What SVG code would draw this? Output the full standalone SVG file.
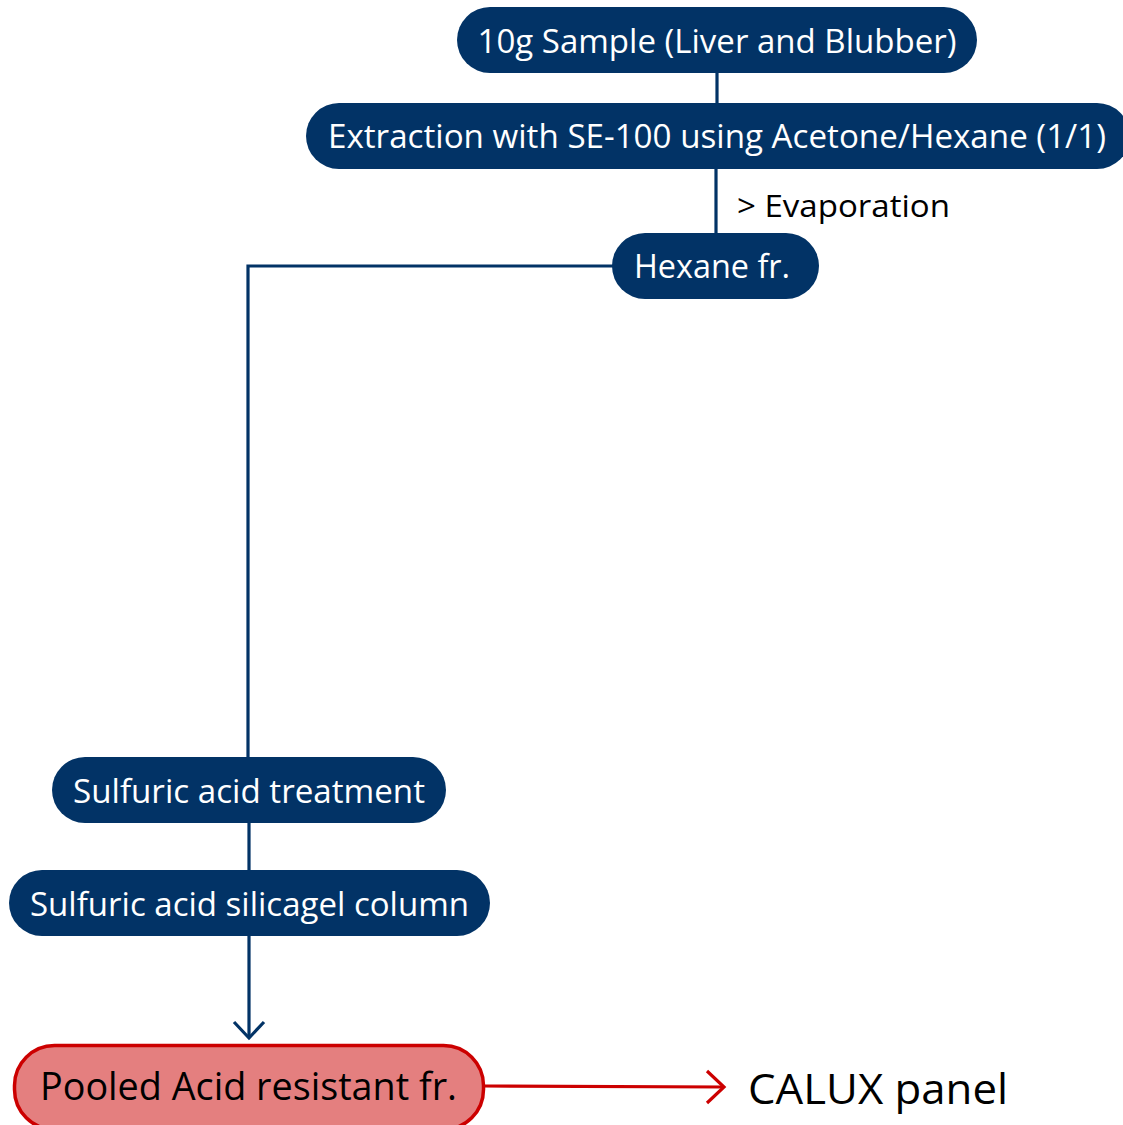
<svg xmlns="http://www.w3.org/2000/svg" width="1123" height="1125" viewBox="0 0 1123 1125">
<style>
.n{fill:#023366}
.t{fill:#fff;font-family:"Open Sans","Noto Sans",sans-serif;font-size:32px;text-anchor:middle}
.c{fill:none;stroke:#023366;stroke-width:3.2}
.r{fill:none;stroke:#CC0000;stroke-width:3.2}
.k{fill:#000;font-family:"Open Sans","Noto Sans",sans-serif}
</style>
<rect width="1123" height="1125" fill="#fff"/>
<g id="connectors">
<line class="c" x1="717" y1="72" x2="717" y2="104"/>
<line class="c" x1="716" y1="168" x2="716" y2="234"/>
<polyline class="c" points="614,266 248,266 248,758"/>
<line class="c" x1="249" y1="822" x2="249" y2="871"/>
<line class="c" x1="249" y1="935" x2="249" y2="1038"/>
<polyline class="c" points="234,1022 249,1038 264,1022"/>
<line class="r" x1="484" y1="1086" x2="724" y2="1087"/>
<polyline class="r" points="707,1071 724,1087 707,1103"/>
</g>
<g id="n1"><rect class="n" x="457" y="7" width="520" height="66" rx="33"/><text class="t" x="717" y="53" textLength="479" lengthAdjust="spacingAndGlyphs">10g Sample (Liver and Blubber)</text></g>
<g id="n2"><rect class="n" x="306" y="103" width="824" height="66" rx="33"/><text class="t" x="717" y="148" textLength="778" lengthAdjust="spacingAndGlyphs">Extraction with SE-100 using Acetone/Hexane (1/1)</text></g>
<g id="evap"><text class="k" x="737" y="217" font-size="31" textLength="213" lengthAdjust="spacingAndGlyphs">&gt; Evaporation</text></g>
<g id="n3"><rect class="n" x="612" y="233" width="207" height="66" rx="33"/><text class="t" x="712" y="278" textLength="156" lengthAdjust="spacingAndGlyphs">Hexane fr.</text></g>
<g id="n4"><rect class="n" x="52" y="757" width="394" height="66" rx="33"/><text class="t" x="249" y="803" textLength="352" lengthAdjust="spacingAndGlyphs">Sulfuric acid treatment</text></g>
<g id="n5"><rect class="n" x="9" y="870" width="481" height="66" rx="33"/><text class="t" x="249.500" y="916" textLength="439" lengthAdjust="spacingAndGlyphs">Sulfuric acid silicagel column</text></g>
<g id="n6"><rect x="14.500" y="1045.500" width="469" height="84" rx="40" fill="#E47F7F" stroke="#CC0000" stroke-width="3.5"/><text class="k" x="248.500" y="1100" font-size="38" text-anchor="middle" textLength="417" lengthAdjust="spacingAndGlyphs">Pooled Acid resistant fr.</text></g>
<g id="calux"><text class="k" x="748" y="1104" font-size="42" textLength="260" lengthAdjust="spacingAndGlyphs">CALUX panel</text></g>
</svg>
